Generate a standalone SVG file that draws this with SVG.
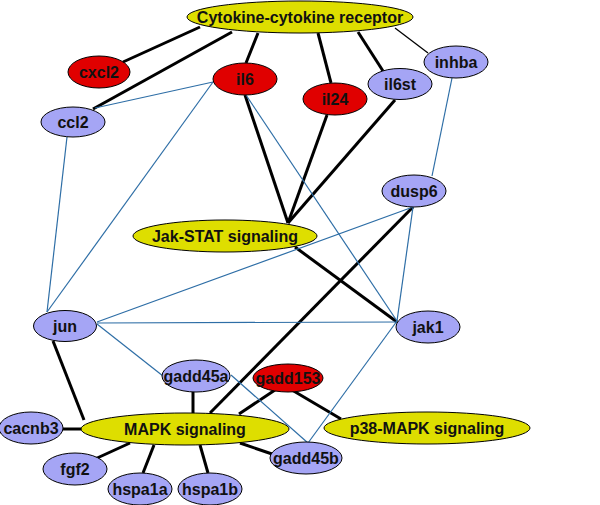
<svg xmlns="http://www.w3.org/2000/svg" width="600" height="505" viewBox="0 0 600 505">
<style>
.n ellipse{stroke:#000;stroke-width:1}
.g ellipse{fill:#a5a5f5}
.r ellipse{fill:#e00000}
.y ellipse{fill:#dede00}
text{font-family:"Liberation Sans",Arial,sans-serif;font-weight:bold;font-size:16px;fill:#111;text-anchor:middle;dominant-baseline:central}
.k{stroke:#000;stroke-width:3;fill:none}
.kt{stroke:#000;stroke-width:1.3;fill:none}
.b{stroke:#2e6ea6;stroke-width:1.2;fill:none}
</style>
<rect width="600" height="505" fill="#fff"/>
<g id="connectors">
<line class="k" x1="200" y1="27" x2="123" y2="62"/>
<line class="k" x1="232" y1="32" x2="93" y2="109"/>
<line class="k" x1="258" y1="33" x2="246" y2="63"/>
<line class="k" x1="318" y1="33" x2="331" y2="83"/>
<line class="k" x1="358" y1="32" x2="383" y2="71"/>
<line class="kt" x1="395" y1="28" x2="428" y2="53"/>
<line class="k" x1="245" y1="95" x2="288" y2="223"/>
<line class="k" x1="327" y1="115" x2="288" y2="223"/>
<line class="k" x1="395" y1="100" x2="288" y2="223"/>
<line class="k" x1="295" y1="247" x2="397" y2="322"/>
<line class="k" x1="413" y1="207" x2="210" y2="413"/>
<line class="k" x1="275" y1="390" x2="239" y2="414"/>
<line class="k" x1="292" y1="390" x2="341" y2="419"/>
<line class="k" x1="193" y1="392" x2="193" y2="413"/>
<line class="k" x1="53" y1="341" x2="84" y2="420"/>
<line class="k" x1="63" y1="429" x2="82" y2="429"/>
<line class="k" x1="130" y1="443" x2="95" y2="459"/>
<line class="k" x1="154" y1="445" x2="143" y2="473"/>
<line class="k" x1="200" y1="445" x2="208" y2="473"/>
<line class="k" x1="240" y1="443" x2="275" y2="455"/>
<line class="b" x1="95" y1="108" x2="213" y2="82"/>
<line class="b" x1="67" y1="137" x2="47" y2="312"/>
<line class="b" x1="213" y1="82" x2="47" y2="312"/>
<line class="b" x1="246" y1="95" x2="397" y2="321"/>
<line class="b" x1="452" y1="78" x2="432" y2="176"/>
<line class="b" x1="413" y1="207" x2="97" y2="322"/>
<line class="b" x1="413" y1="207" x2="397" y2="321"/>
<line class="b" x1="97" y1="323" x2="397" y2="322"/>
<line class="b" x1="97" y1="324" x2="163" y2="376"/>
<line class="b" x1="231" y1="375" x2="308" y2="443"/>
<line class="b" x1="397" y1="321" x2="308" y2="443"/>
</g>
<g id="cytokine" class="n y"><ellipse cx="300" cy="17" rx="113" ry="16"/><text x="300" y="17">Cytokine-cytokine receptor</text></g>
<g id="cxcl2" class="n r"><ellipse cx="99" cy="72" rx="31" ry="16"/><text x="99" y="72">cxcl2</text></g>
<g id="il6" class="n r"><ellipse cx="245" cy="79" rx="32" ry="16"/><text x="245" y="79">il6</text></g>
<g id="ccl2" class="n g"><ellipse cx="73" cy="122" rx="32" ry="15"/><text x="73" y="122">ccl2</text></g>
<g id="il24" class="n r"><ellipse cx="335" cy="99" rx="32" ry="16"/><text x="335" y="99">il24</text></g>
<g id="il6st" class="n g"><ellipse cx="400" cy="84" rx="32" ry="15.5"/><text x="400" y="84">il6st</text></g>
<g id="inhba" class="n g"><ellipse cx="456" cy="62" rx="32" ry="16"/><text x="456" y="62">inhba</text></g>
<g id="dusp6" class="n g"><ellipse cx="414" cy="191" rx="32" ry="16"/><text x="414" y="191">dusp6</text></g>
<g id="jakstat" class="n y"><ellipse cx="225" cy="236" rx="92" ry="16"/><text x="225" y="236">Jak-STAT signaling</text></g>
<g id="jun" class="n g"><ellipse cx="65" cy="326" rx="31.5" ry="15.5"/><text x="65" y="326">jun</text></g>
<g id="jak1" class="n g"><ellipse cx="428" cy="327" rx="32" ry="16"/><text x="428" y="327">jak1</text></g>
<g id="gadd45a" class="n g"><ellipse cx="196" cy="376" rx="34" ry="16"/><text x="196" y="376">gadd45a</text></g>
<g id="gadd153" class="n r"><ellipse cx="288" cy="378" rx="35" ry="14"/><text x="288" y="378">gadd153</text></g>
<g id="cacnb3" class="n g"><ellipse cx="31" cy="428" rx="32" ry="16"/><text x="31" y="428">cacnb3</text></g>
<g id="mapk" class="n y"><ellipse cx="185" cy="429" rx="104" ry="16"/><text x="185" y="429">MAPK signaling</text></g>
<g id="p38" class="n y"><ellipse cx="427" cy="428" rx="103" ry="16"/><text x="427" y="428">p38-MAPK signaling</text></g>
<g id="gadd45b" class="n g"><ellipse cx="306" cy="458" rx="36" ry="16"/><text x="306" y="458">gadd45b</text></g>
<g id="fgf2" class="n g"><ellipse cx="75" cy="469" rx="32" ry="16"/><text x="75" y="469">fgf2</text></g>
<g id="hspa1a" class="n g"><ellipse cx="140" cy="489" rx="32" ry="16"/><text x="140" y="489">hspa1a</text></g>
<g id="hspa1b" class="n g"><ellipse cx="210" cy="489" rx="32" ry="16"/><text x="210" y="489">hspa1b</text></g>
</svg>
